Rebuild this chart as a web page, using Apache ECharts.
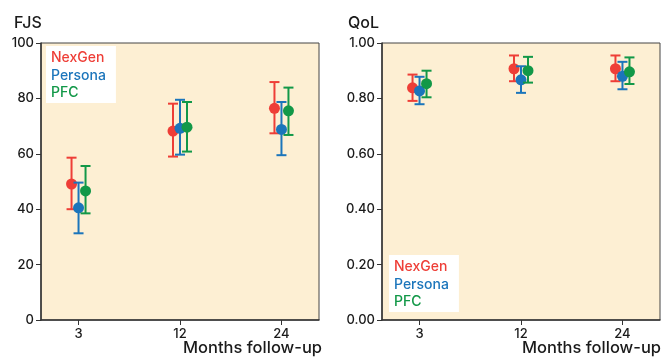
<!DOCTYPE html>
<html>
<head>
<meta charset="utf-8">
<script src="https://cdn.jsdelivr.net/npm/echarts@6/dist/echarts.min.js"></script>
<style>
  html, body { margin: 0; padding: 0; background: #fff; }
  #main { width: 664px; height: 357px; }
</style>
</head>
<body>
<div id="main"></div>
<script>
// follow-up time points (evenly spaced on the x axis)
const months = ['3', '12', '24'];
const groups = ['NexGen', 'Persona', 'PFC'];
const colors = ['#ee3e37', '#1b75bb', '#129848'];

// FJS: mean and error bar ends
const fjsNexGenMean = [49.1, 68.2, 76.4];
const fjsNexGenLow = [40.0, 59.0, 67.4];
const fjsNexGenHigh = [58.6, 78.1, 85.9];
const fjsPersonaMean = [40.5, 69.2, 68.8];
const fjsPersonaLow = [31.3, 59.7, 59.5];
const fjsPersonaHigh = [49.6, 79.5, 78.7];
const fjsPfcMean = [46.6, 69.6, 75.5];
const fjsPfcLow = [38.5, 60.8, 66.8];
const fjsPfcHigh = [55.6, 78.7, 83.9];

// QoL: mean and error bar ends
const qolNexGenMean = [0.838, 0.907, 0.907];
const qolNexGenLow = [0.791, 0.862, 0.862];
const qolNexGenHigh = [0.886, 0.955, 0.955];
const qolPersonaMean = [0.827, 0.867, 0.880];
const qolPersonaLow = [0.779, 0.820, 0.833];
const qolPersonaHigh = [0.878, 0.916, 0.932];
const qolPfcMean = [0.853, 0.900, 0.896];
const qolPfcLow = [0.804, 0.857, 0.852];
const qolPfcHigh = [0.900, 0.950, 0.948];

const fjs = [
  [fjsNexGenMean, fjsNexGenLow, fjsNexGenHigh],
  [fjsPersonaMean, fjsPersonaLow, fjsPersonaHigh],
  [fjsPfcMean, fjsPfcLow, fjsPfcHigh]
];
const qol = [
  [qolNexGenMean, qolNexGenLow, qolNexGenHigh],
  [qolPersonaMean, qolPersonaLow, qolPersonaHigh],
  [qolPfcMean, qolPfcLow, qolPfcHigh]
];

const font = 'Inter, Liberation Sans, Arial, sans-serif';
const offsets = [-7, 0, 7]; // px shift per group so the bars don't overlap

const errorBar = (color, offset) => (params, api) => {
  const x = api.value(0);
  const lo = api.coord([x, api.value(1)]);
  const hi = api.coord([x, api.value(2)]);
  const px = lo[0] + offset;
  const cap = 5;
  const style = { stroke: color, lineWidth: 2 };
  return {
    type: 'group',
    children: [
      { type: 'line', shape: { x1: px, y1: hi[1], x2: px, y2: lo[1] }, style },
      { type: 'line', shape: { x1: px - cap, y1: hi[1], x2: px + cap, y2: hi[1] }, style },
      { type: 'line', shape: { x1: px - cap, y1: lo[1], x2: px + cap, y2: lo[1] }, style }
    ]
  };
};

const series = [];
[fjs, qol].forEach((block, gi) => {
  block.forEach((arrs, k) => {
    const [mean, low, high] = arrs;
    series.push({
      name: groups[k],
      type: 'custom',
      xAxisIndex: gi,
      yAxisIndex: gi,
      z: 2 + k * 2,
      renderItem: errorBar(colors[k], offsets[k]),
      data: months.map((m, i) => [i, low[i], high[i]]),
      silent: true
    });
    series.push({
      name: groups[k],
      type: 'scatter',
      xAxisIndex: gi,
      yAxisIndex: gi,
      z: 3 + k * 2,
      symbol: 'circle',
      symbolSize: 11,
      symbolOffset: [offsets[k], 0],
      itemStyle: { color: colors[k], opacity: 1 },
      data: months.map((m, i) => [i, mean[i]])
    });
  });
});

const xAxisBase = (gridIndex) => ({
  type: 'value',
  gridIndex,
  min: -0.37,
  max: 2.37,
  splitLine: { show: false },
  axisLine: { show: true, onZero: false, lineStyle: { color: '#333', width: 1.5 } },
  axisTick: { show: true, customValues: [0, 1, 2], length: 5, lineStyle: { color: '#333' } },
  axisLabel: {
    customValues: [0, 1, 2],
    formatter: (v) => months[Math.round(v)],
    color: '#1a1a1a', fontSize: 13, fontWeight: 500, fontFamily: font, margin: 8
  }
});

const yAxisBase = (gridIndex, max, interval, fmt, margin) => ({
  type: 'value',
  gridIndex,
  min: 0,
  max,
  interval,
  splitLine: { show: false },
  axisLine: { show: true, onZero: false, lineStyle: { color: '#333', width: 1.5 } },
  axisTick: { show: true, length: 5, lineStyle: { color: '#333' } },
  axisLabel: { formatter: fmt, color: '#1a1a1a', fontSize: 13, fontWeight: 500, fontFamily: font, margin }
});

const legendBase = (left, top) => ({
  orient: 'vertical',
  left,
  top,
  backgroundColor: '#fff',
  padding: [5, 10, 3, 0],
  itemWidth: 0,
  itemHeight: 14,
  itemGap: 3.5,
  selectedMode: false,
  itemStyle: { opacity: 0 },
  data: groups.map((g, k) => ({
    name: g,
    textStyle: { color: colors[k], fontSize: 14, fontWeight: 500, fontFamily: font }
  }))
});

const titleStyle = (size) => ({ fontSize: size, fontWeight: 500, color: '#1a1a1a', fontFamily: font });

const chart = echarts.init(document.getElementById('main'));
chart.setOption({
  animation: false,
  backgroundColor: '#fff',
  title: [
    { text: 'FJS', left: 14, top: 15, padding: 0, textStyle: titleStyle(16) },
    { text: 'QoL', left: 348, top: 15, padding: 0, textStyle: titleStyle(16) },
    { text: 'Months follow-up', left: 183, top: 340, padding: 0, textStyle: titleStyle(16.5) },
    { text: 'Months follow-up', left: 522, top: 340, padding: 0, textStyle: titleStyle(16.5) }
  ],
  legend: [legendBase(46, 46), legendBase(389, 255)],
  grid: [
    { left: 41, top: 43, width: 278, height: 277, show: true, backgroundColor: '#fdefd3', borderColor: '#444', borderWidth: 1 },
    { left: 382, top: 43, width: 278, height: 277, show: true, backgroundColor: '#fdefd3', borderColor: '#444', borderWidth: 1 }
  ],
  xAxis: [xAxisBase(0), xAxisBase(1)],
  yAxis: [
    yAxisBase(0, 100, 20, (v) => String(v), 7),
    yAxisBase(1, 1, 0.2, (v) => v.toFixed(2), 7)
  ],
  series
});
</script>
</body>
</html>
